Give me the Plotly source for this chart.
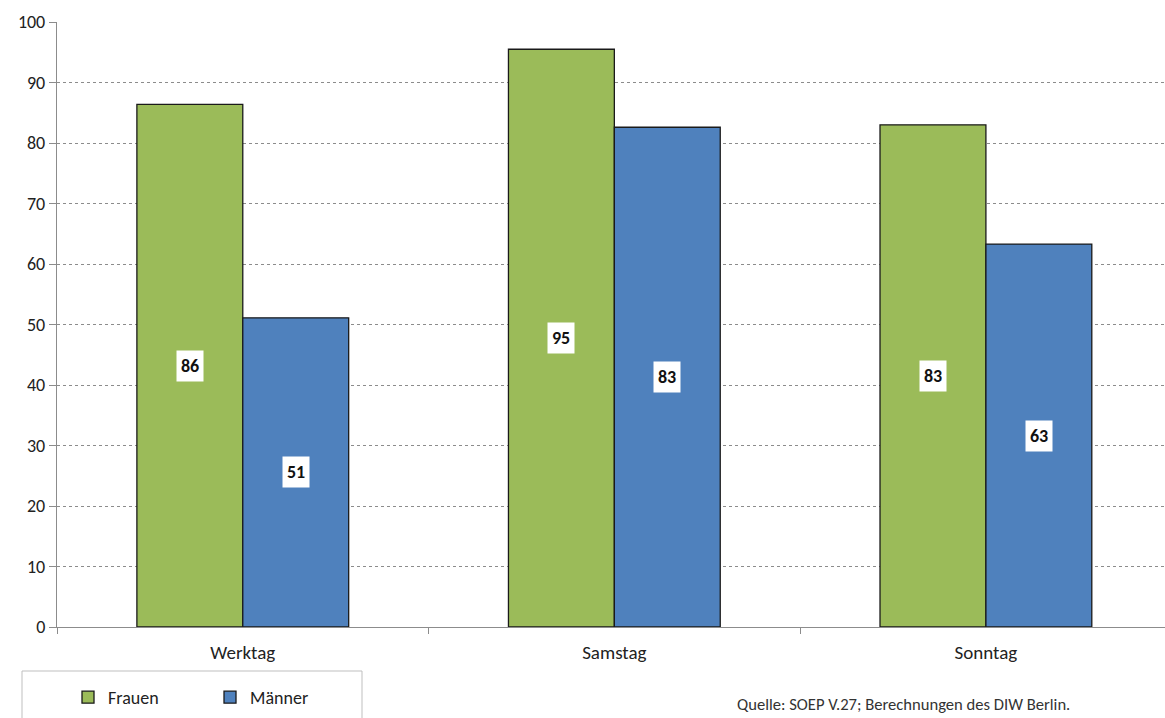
import plotly.graph_objects as go

categories = ["Werktag", "Samstag", "Sonntag"]
frauen = [86.4, 95.5, 83.0]
maenner = [51.1, 82.6, 63.3]
frauen_labels = ["86", "95", "83"]
maenner_labels = ["51", "83", "63"]
y_ticks = [0, 10, 20, 30, 40, 50, 60, 70, 80, 90, 100]

FONT = "Calibri, Carlito, Lato, sans-serif"
GREEN = "#9BBB59"
BLUE = "#4F81BD"

W, H = 1165, 718
L, R, T, B = 57, 0, 22, 91
PW, PH = W - L - R, H - T - B


def px_x(x):
    return (x - L) / PW


def px_y(y):
    return (H - B - y) / PH


fig = go.Figure()
fig.add_trace(go.Bar(name="Frauen", x=categories, y=frauen,
                     marker=dict(color=GREEN, line=dict(color="#1a1a1a", width=1.3))))
fig.add_trace(go.Bar(name="Männer", x=categories, y=maenner,
                     marker=dict(color=BLUE, line=dict(color="#1a1a1a", width=1.3))))

bar_half = (1 - 0.43) / 4
annotations = []
for i, cat in enumerate(categories):
    for vals, labs, sign in ((frauen, frauen_labels, -1), (maenner, maenner_labels, 1)):
        annotations.append(dict(
            x=i + sign * bar_half, y=vals[i] / 2, xref="x", yref="y",
            text="<b>%s</b>" % labs[i], showarrow=False,
            font=dict(family=FONT, size=18, color="#111"),
            bgcolor="white", borderpad=4,
        ))
annotations.append(dict(
    x=px_x(735), y=px_y(704), xref="paper", yref="paper",
    text="Quelle: SOEP V.27; Berechnungen des DIW Berlin.",
    showarrow=False, font=dict(family=FONT, size=16.6, color="#333"),
    xanchor="left", yanchor="middle",
))

fig.update_layout(
    width=W, height=H,
    margin=dict(l=L, r=R, t=T, b=B),
    paper_bgcolor="white", plot_bgcolor="white",
    barmode="group", bargap=0.43, bargroupgap=0,
    font=dict(family=FONT, size=18, color="#222"),
    showlegend=True,
    legend=dict(orientation="h", x=px_x(68), y=px_y(679),
                xanchor="left", yanchor="top", bgcolor="rgba(0,0,0,0)", borderwidth=0,
                font=dict(family=FONT, size=18, color="#222"), itemwidth=30, tracegroupgap=0,
                entrywidth=97),
    annotations=annotations,
    shapes=[dict(type="rect", xref="paper", yref="paper",
                 x0=px_x(22), x1=px_x(362), y0=px_y(730), y1=px_y(671),
                 line=dict(color="#bfbfbf", width=1), fillcolor="rgba(0,0,0,0)", layer="below")],
    xaxis=dict(range=[-0.5, 2.482], showline=True, linecolor="#8c8c8c", linewidth=1.3,
               ticks="outside", tickson="boundaries", ticklen=6, tickcolor="#8c8c8c",
               ticklabelstandoff=8,
               tickfont=dict(family=FONT, size=19, color="#222"), showgrid=False),
    yaxis=dict(range=[0, 100], tickvals=y_ticks, showline=True, linecolor="#8c8c8c", linewidth=1.3,
               ticks="outside", ticklen=7, tickcolor="#8c8c8c",
               showgrid=True, gridcolor="#8c8c8c", griddash="dot", gridwidth=1,
               tickfont=dict(family=FONT, size=18, color="#222"), zeroline=False),
)

fig.write_html("out.html", config={"displayModeBar": False},
               post_script="document.body.style.margin='0';")
